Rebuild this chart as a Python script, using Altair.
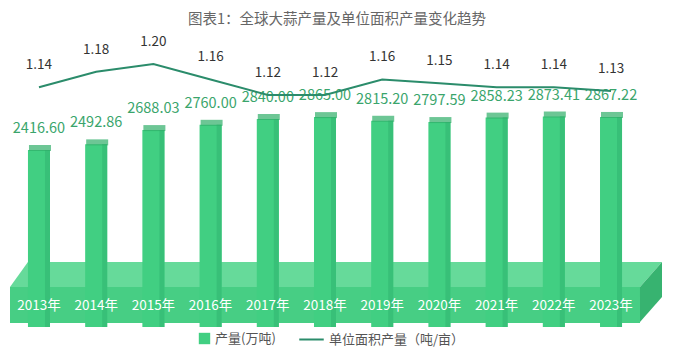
import altair as alt
import pandas as pd

years = ["2013年", "2014年", "2015年", "2016年", "2017年", "2018年",
         "2019年", "2020年", "2021年", "2022年", "2023年"]
output = [2416.60, 2492.86, 2688.03, 2760.00, 2840.00, 2865.00,
          2815.20, 2797.59, 2858.23, 2873.41, 2867.22]
yield_per_mu = [1.14, 1.18, 1.20, 1.16, 1.12, 1.12, 1.16, 1.15, 1.14, 1.14, 1.13]

FONT = "Noto Sans CJK SC"
BAR = "#41cf82"
CAP = "#2fae68"
SIDE = "#38c078"
LINE = "#2b8c6b"

df = pd.DataFrame({"year": years, "output": output, "yld": yield_per_mu})
df["s1"] = "产量(万吨)"
df["s2"] = "单位面积产量（吨/亩）"
df["olab"] = [f"{v:.2f}" for v in output]
df["ylab"] = [f"{v:.2f}" for v in yield_per_mu]

W, H = 630, 255

axis_x = alt.Axis(title=None, domain=False, ticks=False, labelColor="white",
                  labelFontSize=13.5, labelFont=FONT, labelPadding=20,
                  labelBaseline="middle", labelAngle=0, zindex=1, grid=False)
x_enc = alt.X("year:N", sort=years,
              scale=alt.Scale(paddingInner=0.615, paddingOuter=0.314),
              axis=axis_x)
y_bar = alt.Y("output:Q", scale=alt.Scale(domain=[572, 4055], zero=False, nice=False), axis=None)
y_line = alt.Y("yld:Q", scale=alt.Scale(domain=[0.6297, 1.2877], zero=False, nice=False), axis=None)

# decorative 3D floor (slab under the bars)
one = pd.DataFrame({"a": [0]})
TOP_SHAPE = "M-0.945,-0.0383 L1,-0.0383 L0.9325,0.0383 L-1,0.0383 Z"
SIDE_SHAPE = "M-0.367,-0.167 L0.367,-1 L0.367,0.167 L-0.367,1 Z"
floor_top = alt.Chart(one).mark_point(
    shape=TOP_SHAPE, filled=True, opacity=1, color="#66da9a", size=652 * 652, strokeWidth=0
).encode(x=alt.value(326), y=alt.value(244.5))
floor_front = alt.Chart(one).mark_rect(color="#47ce84").encode(
    x=alt.value(0), x2=alt.value(630), y=alt.value(257), y2=alt.value(293))
floor_side = alt.Chart(one).mark_point(
    shape=SIDE_SHAPE, filled=True, opacity=1, color="#37b370", size=60 * 60, strokeWidth=0
).encode(x=alt.value(641), y=alt.value(262))

base = alt.Chart(df)

bars = base.mark_bar().encode(
    x=x_enc, y=y_bar,
    color=alt.Color("s1:N", scale=alt.Scale(range=[BAR]),
                    legend=alt.Legend(title=None, orient="none", legendX=188, legendY=302,
                                      symbolType="square", symbolSize=130,
                                      labelFont=FONT, labelFontSize=13, labelColor="#555",
                                      labelLimit=300, symbolStrokeWidth=0)))
side = base.mark_bar(color=SIDE, width=5, xOffset=8.5).encode(x=x_enc, y=y_bar)
cap = base.mark_tick(color=CAP, thickness=6, size=22, yOffset=-2, xOffset=1).encode(x=x_enc, y=y_bar)
bar_lab = base.mark_text(dy=-21, fontSize=14.5, font=FONT, color="#3aa56c").encode(
    x=x_enc, y=y_bar, text="olab:N")

line = base.mark_line(strokeWidth=2).encode(
    x=x_enc, y=y_line,
    stroke=alt.Stroke("s2:N", scale=alt.Scale(range=[LINE]),
                      legend=alt.Legend(title=None, orient="none", legendX=288, legendY=296,
                                        symbolType="stroke", symbolSize=600,
                                        symbolStrokeWidth=2, labelLimit=300,
                                        labelFont=FONT, labelFontSize=13, labelColor="#555")))
line_lab = base.mark_text(dy=-22, fontSize=13.5, font=FONT, color="#333").encode(
    x=x_enc, y=y_line, text="ylab:N")

chart = alt.layer(
    floor_top, floor_front, floor_side, bars, side, cap, bar_lab, line, line_lab
).resolve_scale(y="independent").properties(
    width=W, height=H,
    title=alt.Title("图表1：全球大蒜产量及单位面积产量变化趋势", fontSize=14.5, color="#666",
                    fontWeight="normal", font=FONT, offset=3, dx=12),
    autosize=alt.AutoSizeParams(type="none"),
    padding={"left": 2, "top": 22, "right": 30, "bottom": 66},
).configure_view(stroke=None)

chart.save("out.html", embed_options={"renderer": "svg", "actions": False})
